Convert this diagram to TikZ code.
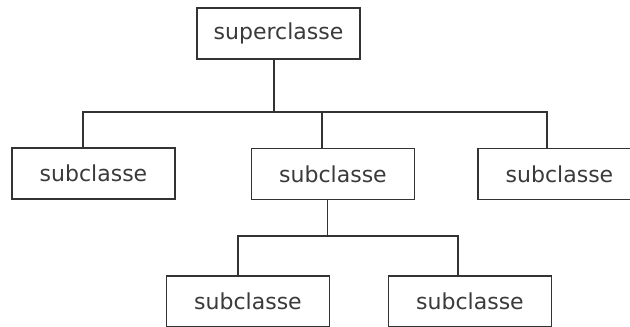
\documentclass[tikz,border=0pt]{standalone}
\usepackage{fontspec}
\setmainfont{DejaVu Sans}
\usetikzlibrary{calc}
\definecolor{linegray}{HTML}{333333}
\definecolor{textgray}{HTML}{3A3A3A}
\tikzset{classbox/.style={
    draw=linegray, line width=1.4pt, fill=white,
    minimum width=163pt, minimum height=51pt, inner sep=0pt,
    text=textgray, font=\fontsize{22}{26}\selectfont
  },
  link/.style={draw=linegray, line width=1.4pt}
}

\begin{document}
\begin{tikzpicture}[x=1pt, y=-1pt]
      \useasboundingbox (0,0) rectangle (630,327);
      % classes
      \node[classbox] (sup) at (278.5,33.5) {superclasse};
      \node[classbox] (sub1) at (93.5,173.5) {subclasse};
      \node[classbox] (sub2) at (333,174) {subclasse};
      \node[classbox] (sub3) at (559.5,174) {subclasse};
      \node[classbox] (sub4) at (248,301.5) {subclasse};
      \node[classbox] (sub5) at (470,301.5) {subclasse};
      % buses
      \coordinate (bustop) at (0,112);
      \coordinate (buslow) at (0,236);
      \draw[link] ([xshift=-4.5pt]sup.south) -- ([xshift=-4.5pt]sup.south |- bustop);
      \draw[link] ([xshift=-10.5pt]sub1.north) -- ([xshift=-10.5pt]sub1.north |- bustop)
        -- ([xshift=-12.5pt]sub3.north |- bustop) -- ([xshift=-12.5pt]sub3.north);
      \draw[link] ([xshift=-11pt]sub2.north) -- ([xshift=-11pt]sub2.north |- bustop);
      \draw[link] ([xshift=-5.5pt]sub2.south) -- ([xshift=-5.5pt]sub2.south |- buslow);
      \draw[link] ([xshift=-10pt]sub4.north) -- ([xshift=-10pt]sub4.north |- buslow)
        -- ([xshift=-12pt]sub5.north |- buslow) -- ([xshift=-12pt]sub5.north);
    \end{tikzpicture}
\end{document}
